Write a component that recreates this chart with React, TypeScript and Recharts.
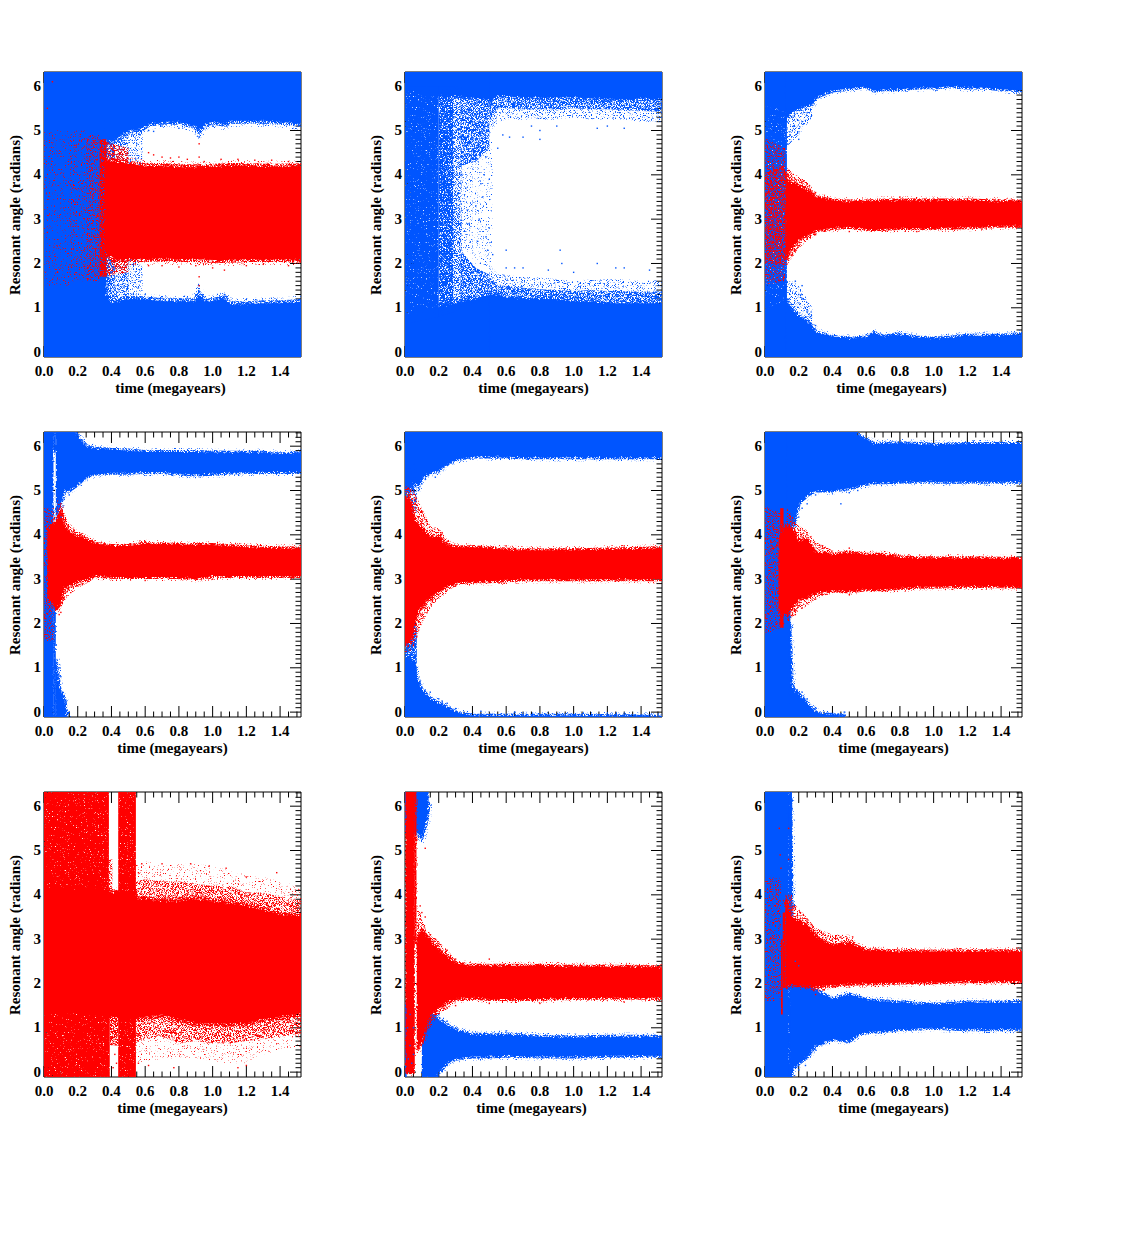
import React from "react";
import { ComposedChart, Area, Scatter, XAxis, YAxis } from "recharts";

const Y_MIN = -0.11;
const Y_MAX = 6.32;
const T_MAX = 1.524;
const xTickValues = [0,0.05,0.1,0.15,0.2,0.25,0.3,0.35,0.4,0.45,0.5,0.55,0.6,0.65,0.7,0.75,0.8,0.85,0.9,0.95,1,1.05,1.1,1.15,1.2,1.25,1.3,1.35,1.4,1.45,1.5];
const yTickValues = [0,0.1,0.2,0.3,0.4,0.5,0.6,0.7,0.8,0.9,1,1.1,1.2,1.3,1.4,1.5,1.6,1.7,1.8,1.9,2,2.1,2.2,2.3,2.4,2.5,2.6,2.7,2.8,2.9,3,3.1,3.2,3.3,3.4,3.5,3.6,3.7,3.8,3.9,4,4.1,4.2,4.3,4.4,4.5,4.6,4.7,4.8,4.9,5,5.1,5.2,5.3,5.4,5.5,5.6,5.7,5.8,5.9,6,6.1,6.2,6.3];

type Band = { s: "b" | "r"; d: number; t: number[]; lo: number[]; hi: number[] };
const L = -0.4, H = 6.6;

// ---- panel 1
const p1Late = [0.36,0.4,0.5,0.58,0.62,0.7,0.8,0.9,0.92,0.95,1,1.07,1.1,1.2,1.3,1.4,1.524];
const p1BlueTopEdge = [4.8,4.75,5.0,5.05,5.15,5.2,5.2,5.1,5.0,5.15,5.2,5.15,5.22,5.22,5.22,5.2,5.13];
const p1BlueBottomEdge = [1.3,1.1,1.2,1.2,1.18,1.15,1.15,1.15,1.3,1.15,1.15,1.22,1.08,1.08,1.1,1.1,1.15];
const p1RedTime = [0.36,0.42,0.5,0.6,0.7,0.8,0.9,1,1.1,1.2,1.3,1.4,1.524];
const p1RedLow = [2.3,2.1,2.1,2.1,2.12,2.1,2.1,2.08,2.08,2.1,2.1,2.1,2.08];
const p1RedHigh = [4.3,4.3,4.25,4.2,4.2,4.17,4.17,4.18,4.2,4.2,4.18,4.18,4.2];
const p1Bands: Band[] = [
  { s:"b", d:1, t:[0,0.37], lo:[L,L], hi:[H,H] },
  { s:"b", d:1, t:p1Late, lo:p1Late.map(()=>L), hi:p1BlueBottomEdge },
  { s:"b", d:1, t:p1Late, lo:p1BlueTopEdge, hi:p1Late.map(()=>H) },
  { s:"b", d:0.7, t:[0.36,0.42], lo:[1.3,1.1], hi:[4.8,4.75] },
  { s:"b", d:0.6, t:[0.42,0.5], lo:[1.1,1.2], hi:[4.75,5] },
  { s:"b", d:0.3, t:[0.5,0.585], lo:[1.2,1.2], hi:[5,5.05] },
  { s:"r", d:0.1, t:[0,0.15], lo:[1.5,1.5], hi:[5,5] },
  { s:"r", d:0.2, t:[0.15,0.25], lo:[1.6,1.6], hi:[5,5] },
  { s:"r", d:0.4, t:[0.25,0.33], lo:[1.6,1.6], hi:[4.9,4.9] },
  { s:"r", d:0.8, t:[0.33,0.37], lo:[1.7,1.7], hi:[4.8,4.8] },
  { s:"r", d:0.6, t:[0.36,0.5], lo:[1.7,1.8], hi:[4.75,4.6] },
  { s:"r", d:1, t:p1RedTime, lo:p1RedLow, hi:p1RedHigh },
];
const p1RedDots = [[0.02,2.7],[0.02,5.5],[0.05,6.1],[0.08,1.8],[0.92,4.7],[0.92,4.4],[0.92,1.7],[0.92,1.5],[0.62,4.5],[0.65,4.45],[0.7,4.4],[0.75,4.38],[0.8,4.4],[0.85,4.35],[0.95,4.3],[1.05,4.35],[1.15,4.35],[1.25,4.33],[1.35,4.33],[1.45,4.3],[0.62,1.95],[0.7,1.95],[0.8,1.92],[0.9,1.95],[1.0,1.9],[1.07,1.85],[1.2,1.95],[1.3,1.98],[1.45,1.95]];
const p1BlueDots = [[0.52,4.9],[0.55,4.7],[0.57,4.9],[0.5,1.5],[0.53,1.3],[0.56,1.45],[0.57,1.6],[0.6,1.3],[0.62,5],[0.65,4.98],[0.92,1.5],[0.92,4.85],[0.7,5.1],[0.8,5.05],[1.0,5.1],[1.3,5.15],[0.7,1.25],[0.85,1.22],[1.07,1.3]];

// ---- panel 2
const p2Time = [0.5,0.55,0.6,0.7,0.8,0.9,1,1.1,1.2,1.3,1.4,1.524];
const p2TopSolid = [5.6,5.8,5.8,5.75,5.75,5.75,5.75,5.72,5.72,5.7,5.72,5.72];
const p2TopMid = [5.2,5.5,5.5,5.48,5.48,5.48,5.5,5.48,5.48,5.46,5.44,5.42];
const p2TopFringe = [4.9,5.2,5.25,5.25,5.25,5.25,5.3,5.25,5.25,5.25,5.2,5.2];
const p2BottomSolid = [1.3,1.3,1.25,1.2,1.2,1.2,1.15,1.15,1.1,1.1,1.1,1.1];
const p2BottomMid = [1.7,1.5,1.5,1.45,1.42,1.4,1.38,1.4,1.38,1.38,1.36,1.38];
const p2BottomFringe = [2.0,1.75,1.75,1.7,1.68,1.65,1.6,1.65,1.65,1.65,1.6,1.65];
const p2Bands: Band[] = [
  { s:"b", d:1, t:[0,0.51], lo:[5.9,5.7], hi:[H,H] },
  { s:"b", d:1, t:[0,0.2,0.51], lo:[L,L,L], hi:[0.8,1.0,1.3] },
  { s:"b", d:0.9, t:[0,0.2], lo:[0.6,0.8], hi:[6.0,6.0] },
  { s:"b", d:0.8, t:[0.2,0.285], lo:[0.8,0.9], hi:[6.0,6.0] },
  { s:"b", d:0.6, t:[0.285,0.335], lo:[0.9,1], hi:[6.0,6.0] },
  { s:"b", d:0.7, t:[0.33,0.42,0.5], lo:[4.2,4.3,4.6], hi:[5.9,5.8,5.7] },
  { s:"b", d:0.7, t:[0.33,0.42,0.5], lo:[1,1.1,1.2], hi:[2.3,1.9,1.75] },
  { s:"b", d:0.2, t:[0.33,0.4], lo:[2.3,2.2], hi:[4.2,4.2] },
  { s:"b", d:0.1, t:[0.4,0.52], lo:[2,1.9], hi:[4.4,4.8] },
  { s:"b", d:0.3, t:p2Time, lo:p2TopFringe, hi:p2TopMid },
  { s:"b", d:0.7, t:p2Time, lo:p2TopMid, hi:p2TopSolid },
  { s:"b", d:0.7, t:p2Time, lo:p2BottomSolid, hi:p2BottomMid },
  { s:"b", d:0.3, t:p2Time, lo:p2BottomMid, hi:p2BottomFringe },
  { s:"b", d:1, t:p2Time, lo:p2TopSolid, hi:p2Time.map(()=>H) },
  { s:"b", d:1, t:p2Time, lo:p2Time.map(()=>L), hi:p2BottomSolid },
];
const p2BlueDots = [[0.36,3.7],[0.37,3.2],[0.38,2.9],[0.42,3.3],[0.44,3],[0.43,2.5],[0.45,3.8],[0.46,3.5],[0.47,4],[0.48,2.6],[0.49,2.3],[0.5,2.8],[0.52,2.2],[0.5,3.9],[0.48,4.4],[0.55,4.6],[0.58,4.9],[0.62,4.85],[0.7,4.85],[0.8,4.8],[0.92,2.3],[0.93,2.0],[1.14,2],[1.25,1.9],[1.3,1.9],[0.6,2.3],[0.6,1.9],[0.65,1.9],[0.7,1.9],[1.14,5.05],[1.2,5.1],[1.3,5.05],[0.8,5],[0.9,5.1],[0.75,5.1],[0.85,1.85],[1.0,1.8],[1.45,1.85]];

// ---- panel 3
const p3Time = [0.12,0.15,0.2,0.28,0.3,0.4,0.5,0.6,0.65,0.7,0.8,0.9,1,1.1,1.2,1.3,1.4,1.524];
const p3TopEdge = [5.2,5.4,5.5,5.6,5.75,5.9,5.95,6.0,5.9,5.93,5.93,5.97,5.97,6.0,5.97,5.97,5.93,5.9];
const p3BottomEdge = [1.2,1.0,0.8,0.6,0.45,0.35,0.3,0.33,0.43,0.35,0.4,0.33,0.3,0.33,0.37,0.37,0.37,0.42];
const p3RedTime = [0.12,0.15,0.2,0.25,0.3,0.4,0.5,0.6,0.7,0.8,1,1.2,1.4,1.524];
const p3RedLow = [2.1,2.3,2.55,2.65,2.75,2.8,2.83,2.78,2.78,2.8,2.8,2.82,2.85,2.85];
const p3RedHigh = [4.05,3.8,3.75,3.65,3.5,3.42,3.4,3.4,3.42,3.42,3.42,3.42,3.4,3.4];
const p3Bands: Band[] = [
  { s:"b", d:1, t:[0,0.13], lo:[5.6,5.4], hi:[H,H] },
  { s:"b", d:1, t:[0,0.13], lo:[L,L], hi:[0.9,1.2] },
  { s:"b", d:0.9, t:[0,0.13], lo:[0.9,1.2], hi:[5.6,5.4] },
  { s:"b", d:0.4, t:[0.12,0.2,0.28], lo:[4.6,4.9,5.3], hi:[5.4,5.5,5.75] },
  { s:"b", d:0.4, t:[0.12,0.2,0.28], lo:[0.9,0.7,0.5], hi:[1.7,1.5,1] },
  { s:"b", d:1, t:p3Time, lo:p3TopEdge, hi:p3Time.map(()=>H) },
  { s:"b", d:1, t:p3Time, lo:p3Time.map(()=>L), hi:p3BottomEdge },
  { s:"r", d:0.4, t:[0,0.12], lo:[1.5,1.6], hi:[4.9,4.6] },
  { s:"r", d:0.6, t:[0,0.12], lo:[2.0,2.0], hi:[4.0,4.2] },
  { s:"r", d:0.5, t:[0.12,0.2,0.25,0.3], lo:[1.9,2.35,2.5,2.65], hi:[4.2,3.95,3.85,3.6] },
  { s:"r", d:1, t:p3RedTime, lo:p3RedLow, hi:p3RedHigh },
];
const p3BlueDots = [[0.15,4.9],[0.17,5.1],[0.2,4.8],[0.22,5.2],[0.25,5.4],[0.27,5.6],[0.15,1.4],[0.18,1.6],[0.2,1.3],[0.22,1.2],[0.25,0.9],[0.27,0.8],[0.3,0.6],[0.22,1.5]];
const p3RedDots = [[0.14,4.1],[0.18,3.9],[0.22,3.85],[0.16,2.2],[0.2,2.4],[0.25,2.55],[0.3,3.6],[0.3,2.65],[0.5,2.72],[0.8,3.5],[0.9,2.72]];

// ---- panel 4
const p4TopTime = [0.07,0.1,0.12,0.15,0.2,0.25,0.3,0.4,0.5,0.6,0.7,0.8,0.9,1,1.1,1.2,1.3,1.4,1.524];
const p4TopLow = [4.3,4.7,5,5,5.15,5.3,5.38,5.4,5.4,5.42,5.42,5.38,5.36,5.38,5.4,5.42,5.42,5.42,5.42];
const p4TopHigh = [H,H,H,H,6.2,6,5.95,5.92,5.9,5.87,5.87,5.87,5.87,5.86,5.85,5.85,5.85,5.82,5.85];
const p4RedTime = [0.02,0.07,0.1,0.12,0.15,0.2,0.25,0.3,0.4,0.5,0.6,0.7,0.8,0.9,1,1.2,1.4,1.524];
const p4RedLow = [2.6,2.4,2.6,2.8,2.85,2.95,3,3.08,3.05,3.05,3.05,3.05,3.05,3.02,3.07,3.07,3.07,3.07];
const p4RedHigh = [4.1,4.3,4.5,4.2,4.05,3.95,3.9,3.8,3.75,3.75,3.8,3.78,3.77,3.77,3.77,3.72,3.7,3.68];
const p4Bands: Band[] = [
  { s:"b", d:1, t:[0,0.056], lo:[L,L], hi:[H,H] },
  { s:"b", d:1, t:[0.055,0.07], lo:[L,L], hi:[4.0,4.0] },
  { s:"b", d:1, t:[0.068,0.09,0.12,0.145], lo:[L,L,L,L], hi:[1.2,0.55,0.3,L] },
  { s:"b", d:1, t:[0.055,0.07], lo:[5.9,5.9], hi:[H,H] },
  { s:"b", d:1, t:p4TopTime, lo:p4TopLow, hi:p4TopHigh },
  { s:"r", d:0.4, t:[0,0.06], lo:[1.6,1.6], hi:[4.6,4.6] },
  { s:"r", d:0.5, t:[0.08,0.12,0.15,0.2,0.25,0.3], lo:[2.2,2.5,2.65,2.8,2.9,3], hi:[4.8,4.5,4.25,4.1,4,3.9] },
  { s:"r", d:0.9, t:[0.065,0.08,0.1], lo:[2.3,2.3,2.4], hi:[4.0,4.3,4.6] },
  { s:"r", d:1, t:p4RedTime, lo:p4RedLow, hi:p4RedHigh },
];
const p4BlueDots = [[0.1,0.8],[0.09,0.6],[0.11,0.45],[0.13,0.25],[0.13,0.05],[0.15,0],[0.09,1.0],[0.1,4.4],[0.12,4.8],[0.15,4.9],[0.18,5.05],[0.22,5.2],[0.22,6.1],[0.25,6.05],[0.28,5.9]];
const p4RedDots = [[0.1,4.7],[0.12,4.3],[0.14,4.2],[0.18,4.1],[0.22,4],[0.15,2.75],[0.2,2.85],[0.23,2.9],[0.09,2.2],[0.1,2.25],[0.12,2.55],[0.6,2.97],[1.0,3.0],[0.6,3.85]];

// ---- panel 5
const p5BlueTopTime = [0,0.03,0.05,0.08,0.1,0.15,0.2,0.25,0.3,0.4,0.5,0.7,0.9,1.1,1.3,1.524];
const p5BlueTopLow = [4.9,5,5.2,5.1,5.3,5.4,5.45,5.6,5.7,5.77,5.77,5.75,5.75,5.75,5.75,5.75];
const p5BlueBottomTime = [0,0.05,0.07,0.1,0.15,0.2,0.25,0.3,0.35,0.4,0.6,1,1.524];
const p5BlueBottomHigh = [1.3,1.1,0.75,0.5,0.3,0.2,0.1,0,-0.05,-0.08,-0.08,-0.08,-0.1];
const p5RedTime = [0,0.03,0.05,0.08,0.1,0.15,0.2,0.25,0.3,0.4,0.5,0.6,0.7,0.8,1,1.2,1.524];
const p5RedLow = [1.5,1.6,1.9,2.3,2.4,2.6,2.75,2.85,2.92,2.95,2.95,2.97,3,3,3,3,3];
const p5RedHigh = [4.9,4.8,4.4,4.2,4.15,3.95,3.95,3.75,3.72,3.72,3.7,3.67,3.65,3.65,3.65,3.67,3.7];
const p5Bands: Band[] = [
  { s:"b", d:1, t:p5BlueTopTime, lo:p5BlueTopLow, hi:p5BlueTopTime.map(()=>H) },
  { s:"b", d:1, t:p5BlueBottomTime, lo:p5BlueBottomTime.map(()=>L), hi:p5BlueBottomHigh },
  { s:"b", d:0.8, t:[0,0.07], lo:[0.7,0.7], hi:[2,2] },
  { s:"b", d:0.6, t:[0,0.07], lo:[4.5,4.5], hi:[5.5,5.5] },
  { s:"r", d:0.5, t:[0,0.05,0.1,0.15,0.2,0.25,0.3], lo:[1.2,1.5,2.0,2.35,2.55,2.7,2.85], hi:[5.2,5,4.6,4.2,4.15,3.9,3.8] },
  { s:"r", d:1, t:p5RedTime, lo:p5RedLow, hi:p5RedHigh },
];
const p5BlueDots = [[0.1,5.15],[0.08,5.0],[0.12,5.25],[0.18,5.3],[0.09,0.7],[0.12,0.5],[0.15,0.45],[0.2,0.3],[0.22,0.25],[0.25,0.2],[0.02,1.2],[0.04,0.95],[0.05,5.6],[0.3,0.08],[0.45,0.02],[0.65,0.0]];
const p5RedDots = [[0.02,5.05],[0.04,4.8],[0.06,4.7],[0.08,4.4],[0.1,4.3],[0.13,4.3],[0.16,4.1],[0.2,4.1],[0.22,4.05],[0.25,3.85],[0.03,1.4],[0.05,1.5],[0.07,1.7],[0.08,2.05],[0.1,2.2],[0.12,2.4],[0.16,2.55],[0.2,2.65],[0.3,2.85],[0.6,3.75],[1.3,3.75]];

// ---- panel 6
const p6TopTime = [0.13,0.15,0.2,0.25,0.3,0.4,0.5,0.55,0.6,0.65,0.8,1,1.2,1.4,1.524];
const p6TopLow = [3,3.9,4.7,4.9,5,5,5.05,5.1,5.15,5.18,5.2,5.2,5.2,5.2,5.2];
const p6TopHigh = [H,H,H,H,H,H,H,6.25,6.15,6.05,6.07,6.03,6.05,6.05,6.05];
const p6BottomTime = [0.145,0.16,0.2,0.25,0.3,0.35,0.48];
const p6BottomHigh = [2,0.55,0.4,0.2,0,-0.05,-0.08];
const p6RedTime = [0.08,0.13,0.17,0.2,0.25,0.3,0.4,0.5,0.6,0.7,0.8,0.9,1,1.2,1.524];
const p6RedLow = [2.3,2.2,2.4,2.55,2.6,2.7,2.75,2.72,2.77,2.77,2.8,2.83,2.83,2.85,2.83];
const p6RedHigh = [3.9,4.2,4.1,3.85,3.9,3.6,3.55,3.6,3.55,3.55,3.5,3.47,3.47,3.47,3.45];
const p6Bands: Band[] = [
  { s:"b", d:1, t:[0,0.15], lo:[L,L], hi:[H,H] },
  { s:"b", d:1, t:p6TopTime, lo:p6TopLow, hi:p6TopHigh },
  { s:"b", d:1, t:p6BottomTime, lo:p6BottomTime.map(()=>L), hi:p6BottomHigh },
  { s:"r", d:0.4, t:[0,0.095], lo:[1.7,1.9], hi:[4.7,4.5] },
  { s:"r", d:0.5, t:[0.13,0.2,0.25,0.3,0.4], lo:[2,2.3,2.4,2.55,2.7], hi:[4.6,4.2,4.1,3.85,3.65] },
  { s:"r", d:0.9, t:[0.09,0.11], lo:[1.9,1.9], hi:[4.6,4.6] },
  { s:"r", d:1, t:p6RedTime, lo:p6RedLow, hi:p6RedHigh },
];
const p6BlueDots = [[0.17,0.6],[0.19,0.5],[0.22,0.45],[0.25,0.3],[0.3,0.1],[0.4,-0.05],[0.47,0],[0.17,4.2],[0.2,4.4],[0.22,4.6],[0.25,4.7],[0.3,4.9],[0.45,4.7],[0.5,4.95],[0.55,5]];
const p6RedDots = [[0.15,4.4],[0.2,4.1],[0.22,3.95],[0.25,4],[0.27,3.95],[0.3,3.8],[0.35,3.7],[0.5,3.7],[0.18,2.2],[0.2,2.4],[0.22,2.35],[0.25,2.45],[0.3,2.55],[0.5,2.65],[0.09,2.0],[0.11,2.0]];

// ---- panel 7
const p7Time = [0.54,0.6,0.7,0.8,0.9,1,1.1,1.2,1.3,1.4,1.524];
const p7UpperOuter = [4.7,4.75,4.7,4.7,4.7,4.65,4.55,4.45,4.4,4.3,4.15];
const p7UpperFringe = [4.3,4.35,4.3,4.3,4.25,4.2,4.2,4.05,4.05,3.95,3.85];
const p7UpperSolid = [3.9,3.9,3.85,3.85,3.9,3.85,3.8,3.75,3.65,3.55,3.5];
const p7LowerOuter = [0.2,0.25,0.3,0.3,0.3,0.25,0.2,0.2,0.4,0.5,0.6];
const p7LowerFringe = [0.65,0.75,0.8,0.65,0.7,0.65,0.65,0.7,0.75,0.8,0.9];
const p7LowerSolid = [1.2,1.25,1.3,1.2,1.1,1.1,1.1,1.1,1.2,1.25,1.35];
const p7Bands: Band[] = [
  { s:"r", d:1, t:[0,0.55], lo:[1.4,1.2], hi:[4.2,4.0] },
  { s:"r", d:0.9, t:[0,0.385], lo:[4.1,4], hi:[H,H] },
  { s:"r", d:0.9, t:[0,0.39], lo:[L,L], hi:[1.5,1.4] },
  { s:"r", d:0.6, t:[0.385,0.405], lo:[3.9,3.9], hi:[4.8,4.8] },
  { s:"r", d:0.9, t:[0.44,0.545], lo:[3.9,3.9], hi:[H,H] },
  { s:"r", d:0.9, t:[0.44,0.545], lo:[L,L], hi:[1.3,1.3] },
  { s:"r", d:0.7, t:[0.39,0.44], lo:[0.6,0.6], hi:[1.4,1.4] },
  { s:"r", d:0.1, t:p7Time, lo:p7UpperFringe, hi:p7UpperOuter },
  { s:"r", d:0.1, t:p7Time, lo:p7LowerOuter, hi:p7LowerFringe },
  { s:"r", d:0.6, t:p7Time, lo:p7UpperSolid, hi:p7UpperFringe },
  { s:"r", d:0.6, t:p7Time, lo:p7LowerFringe, hi:p7LowerSolid },
  { s:"r", d:1, t:p7Time, lo:p7LowerSolid, hi:p7UpperSolid },
];
const p7RedDots = [[0.56,4.5],[0.58,4.7],[0.7,4.7],[0.87,4.7],[0.98,4.65],[1.08,4.6],[1.2,4.4],[1.38,4.5],[0.56,0.2],[0.62,0.15],[0.77,0.1],[1.15,0.1],[1.2,0.15],[0.42,0.4],[0.43,0.2],[0.41,0.1]];

// ---- panel 8
const p8RedTime = [0.07,0.1,0.13,0.15,0.2,0.25,0.3,0.4,0.5,0.6,0.8,1,1.2,1.4,1.524];
const p8RedLow = [0.5,0.7,1.1,1.3,1.45,1.58,1.65,1.68,1.65,1.65,1.65,1.67,1.68,1.68,1.68];
const p8RedHigh = [2.96,3.2,3.05,2.95,2.75,2.6,2.45,2.4,2.4,2.4,2.4,2.38,2.38,2.37,2.35];
const p8BlueTime = [0.1,0.13,0.15,0.2,0.25,0.3,0.4,0.5,0.6,0.8,1,1.2,1.4,1.524];
const p8BlueLow = [L,-0.05,L,0,0.2,0.3,0.35,0.35,0.37,0.35,0.35,0.37,0.37,0.37];
const p8BlueHigh = [0.6,1.3,1.35,1.2,1.05,0.95,0.85,0.83,0.85,0.8,0.78,0.8,0.8,0.78];
const p8Bands: Band[] = [
  { s:"b", d:1, t:[0,0.01], lo:[L,L], hi:[1.5,1.5] },
  { s:"b", d:1, t:[0,0.07,0.1,0.13,0.14], lo:[5.5,5.4,5.3,5.7,6.1], hi:[H,H,H,H,H] },
  { s:"b", d:1, t:p8BlueTime, lo:p8BlueLow, hi:p8BlueHigh },
  { s:"r", d:1, t:[0.003,0.058], lo:[0,0], hi:[H,H] },
  { s:"r", d:1, t:[0.057,0.068], lo:[2.9,2.9], hi:[H,H] },
  { s:"r", d:0.5, t:[0.07,0.1,0.13,0.2,0.3], lo:[0.4,0.6,0.9,1.3,1.55], hi:[3.8,3.5,3.2,2.95,2.55] },
  { s:"r", d:1, t:p8RedTime, lo:p8RedLow, hi:p8RedHigh },
];
const p8BlueDots = [[0.015,1],[0.03,0.6],[0.02,0.3],[0.04,0.2],[0.05,0.4],[0.03,1.3],[0.05,1],[0.12,5.6],[0.14,6.2],[0.1,5.5],[0.2,1.3],[0.25,1.15],[0.3,1],[0.6,0.93],[0.15,-0.05],[0.18,0],[0.22,0.1]];
const p8RedDots = [[0.12,5.05],[0.12,3.5],[0.1,3.6],[0.09,3.75],[0.15,3.1],[0.18,3],[0.2,2.9],[0.25,2.75],[0.3,2.55],[0.5,2.55],[0.15,1.2],[0.18,1.3],[0.25,1.45],[0.3,1.5],[0.5,1.55],[0.8,1.55],[1.3,1.58]];

// ---- panel 9
const p9BlueTime = [0.15,0.16,0.2,0.25,0.3,0.4,0.5,0.55,0.6,0.7,0.8,1,1.2,1.4,1.524];
const p9BlueLow = [L,0.05,0.2,0.35,0.6,0.75,0.7,0.85,0.9,0.93,0.97,1,0.97,0.97,0.97];
const p9BlueHigh = [6.2,3,2.2,2,1.85,1.65,1.75,1.7,1.62,1.6,1.57,1.52,1.57,1.57,1.55];
const p9RedTime = [0.12,0.15,0.2,0.25,0.3,0.4,0.5,0.6,0.8,1,1.2,1.524];
const p9RedLow = [1.9,2,1.95,1.95,1.93,1.97,2,2,2.02,2.03,2.05,2.05];
const p9RedHigh = [3.9,3.5,3.4,3.3,3.05,2.85,2.9,2.75,2.72,2.72,2.72,2.73];
const p9Bands: Band[] = [
  { s:"b", d:1, t:[0,0.145], lo:[L,L], hi:[H,H] },
  { s:"b", d:0.9, t:[0.14,0.16], lo:[L,L], hi:[H,H] },
  { s:"b", d:1, t:p9BlueTime, lo:p9BlueLow, hi:p9BlueHigh },
  { s:"r", d:0.3, t:[0,0.095], lo:[1.6,1.6], hi:[4.4,4.4] },
  { s:"r", d:0.5, t:[0.14,0.2,0.3,0.4,0.5,0.55], lo:[2.3,2.0,1.8,1.9,1.95,1.95], hi:[3.9,3.7,3.25,3.1,3.1,2.9] },
  { s:"r", d:0.9, t:[0.095,0.105], lo:[1.3,1.3], hi:[3,3] },
  { s:"r", d:0.9, t:[0.105,0.12], lo:[1.9,1.9], hi:[3.6,3.6] },
  { s:"r", d:0.5, t:[0.12,0.16], lo:[2,2], hi:[4,4] },
  { s:"r", d:1, t:p9RedTime, lo:p9RedLow, hi:p9RedHigh },
];
const p9BlueDots = [[0.18,0.1],[0.2,0.05],[0.22,0.35],[0.24,0.15],[0.27,0.45],[0.3,0.5],[0.35,0.65],[0.18,2.5],[0.2,2.4]];
const p9RedDots = [[0.18,3.7],[0.21,3.6],[0.25,3.45],[0.28,3.3],[0.3,3.15],[0.4,3],[0.45,3.05],[0.52,3.05],[0.2,2.1],[0.23,2.3],[0.24,1.9],[0.3,1.75],[0.35,1.85],[0.5,1.92],[0.7,1.95],[0.09,4.9],[0.095,4.6],[0.085,5.5],[0.07,3.8],[0.03,3],[0.05,2.5],[0.14,5.5],[0.14,4.8]];

const panels = [
  { left: 44.3, top: 71.5, shift: -2, halo: [6, 12], bands: p1Bands, blueDots: p1BlueDots, redDots: p1RedDots },
  { left: 404.5, top: 71.5, shift: 0, halo: [4, 8], bands: p2Bands, blueDots: p2BlueDots, redDots: [] },
  { left: 765, top: 71.5, shift: -2, halo: [4, 8], bands: p3Bands, blueDots: p3BlueDots, redDots: p3RedDots },
  { left: 44.3, top: 431.7, shift: 0, halo: [4, 8], bands: p4Bands, blueDots: p4BlueDots, redDots: p4RedDots },
  { left: 404.5, top: 431.7, shift: 0, halo: [4, 8], bands: p5Bands, blueDots: p5BlueDots, redDots: p5RedDots },
  { left: 765, top: 431.7, shift: 0, halo: [4, 8], bands: p6Bands, blueDots: p6BlueDots, redDots: p6RedDots },
  { left: 44.3, top: 792.2, shift: 0, halo: [6, 12], bands: p7Bands, blueDots: [], redDots: p7RedDots },
  { left: 404.5, top: 792.2, shift: -2, halo: [4, 8], bands: p8Bands, blueDots: p8BlueDots, redDots: p8RedDots },
  { left: 765, top: 792.2, shift: 0, halo: [4, 8], bands: p9Bands, blueDots: p9BlueDots, redDots: p9RedDots },
];

const BLUE = "#0055ff";
const RED = "#ff0000";
const FONT = "'Liberation Serif', serif";
const PLOT_W = 257, PLOT_H = 285, M_L = 44, M_T = 6, M_B = 46, M_R = 16;
// Noise level above which a pixel is kept, for densities of 10%, 20% ... 90%.
const SPECKLE_CUTS = [0.62, 0.58, 0.55, 0.52, 0.495, 0.46, 0.41, 0.34, 0.22];

const isWhole = (v: number, step: number) => Math.abs(v / step - Math.round(v / step)) < 1e-6;

const BottomTick = (p: any) => {
  const major = isWhole(p.payload.value, 0.2);
  return (
    <g>
      <line x1={p.x} x2={p.x} y1={p.y} y2={p.y - (major ? 11 : 5.5)} stroke="#000" strokeWidth={1} />
      {major && <text x={p.x} y={p.y + 18.5} textAnchor="middle" fontFamily={FONT} fontWeight="bold" fontSize={15} fill="#000">{p.payload.value.toFixed(1)}</text>}
    </g>
  );
};
const TopTick = (p: any) => {
  const major = isWhole(p.payload.value, 0.2);
  return <line x1={p.x} x2={p.x} y1={p.y} y2={p.y + (major ? 11 : 5.5)} stroke="#000" strokeWidth={1} />;
};
const LeftTick = (p: any) => {
  const major = isWhole(p.payload.value, 1);
  return (
    <g>
      <line x1={p.x} x2={p.x + (major ? 11 : 5.5)} y1={p.y} y2={p.y} stroke="#000" strokeWidth={1} />
      {major && <text x={p.x - 3} y={p.y + 4.5} textAnchor="end" fontFamily={FONT} fontWeight="bold" fontSize={15} fill="#000">{p.payload.value.toFixed(0)}</text>}
    </g>
  );
};
const RightTick = (p: any) => {
  const major = isWhole(p.payload.value, 1);
  return <line x1={p.x} x2={p.x - (major ? 11 : 5.5)} y1={p.y} y2={p.y} stroke="#000" strokeWidth={1} />;
};
const YTitle = (p: any) => {
  const x = p.viewBox.x - 23;
  const y = p.viewBox.y + p.viewBox.height / 2 + 0.5;
  return <text x={x} y={y} transform={`rotate(-90 ${x} ${y})`} textAnchor="middle" fontFamily={FONT} fontWeight="bold" fontSize={15} fill="#000">Resonant angle (radians)</text>;
};

const rowsOf = (b: Band) => b.t.map((t, i) => ({
  t: t === 0 ? -0.04 : t >= T_MAX ? T_MAX + 0.04 : t,
  range: [b.lo[i], b.hi[i]],
}));
const dotsOf = (d: number[][]) => d.map(([t, y]) => ({ t, y }));
const Dot = (color: string) => (p: any) => <rect x={p.cx - 0.7} y={p.cy - 0.7} width={1.4} height={1.4} fill={color} />;
const speckle = (d: number) => `url(#speckle${Math.max(1, Math.min(9, Math.round(d * 10)))})`;

function Filters() {
  return (
    <svg width={0} height={0} style={{ position: "absolute" }}>
      <defs>
        {SPECKLE_CUTS.map((cut, i) => (
          <filter key={i} id={`speckle${i + 1}`} filterUnits="userSpaceOnUse" x={-20} y={-20} width={420} height={420} colorInterpolationFilters="sRGB">
            <feTurbulence type="fractalNoise" baseFrequency={1.37} numOctaves={1} seed={i + 3} result="noise" />
            <feColorMatrix in="noise" type="matrix" values={`0 0 0 0 0  0 0 0 0 0  0 0 0 0 0  0 0 0 8 ${-8 * cut}`} result="mask" />
            <feComposite in="SourceGraphic" in2="mask" operator="in" />
          </filter>
        ))}
        <filter id="rough" filterUnits="userSpaceOnUse" x={-20} y={-20} width={420} height={420} colorInterpolationFilters="sRGB">
          <feTurbulence type="fractalNoise" baseFrequency={0.45} numOctaves={2} seed={11} result="noise" />
          <feDisplacementMap in="SourceGraphic" in2="noise" scale={3.5} xChannelSelector="R" yChannelSelector="G" />
        </filter>
      </defs>
    </svg>
  );
}

const layer = { position: "absolute", left: 0, top: 0 } as const;

function Panel({ p }: { p: (typeof panels)[number] }) {
  const w = M_L + PLOT_W + M_R;
  const h = M_T + PLOT_H + M_B;
  return (
    <div style={{ position: "absolute", left: p.left - M_L, top: p.top - M_T, width: w, height: h }}>
      <div style={layer}>
        <ComposedChart width={w} height={h} margin={{ left: M_L - 1, top: M_T - 1, right: M_R - 1, bottom: M_B - 1 }}>
          <XAxis dataKey="t" type="number" domain={[0, T_MAX]} allowDataOverflow ticks={xTickValues} interval={0} height={1} tickSize={0} tickMargin={0} tickLine={false} tick={BottomTick} stroke="#000"
            label={{ value: "time (megayears)", position: "bottom", offset: 24, dx: p.shift, fontFamily: FONT, fontWeight: "bold", fontSize: 15, fill: "#000" }} />
          <XAxis xAxisId="top" orientation="top" dataKey="t" type="number" domain={[0, T_MAX]} allowDataOverflow ticks={xTickValues} interval={0} height={1} tickSize={0} tickMargin={0} tickLine={false} tick={TopTick} stroke="#000" />
          <YAxis type="number" domain={[Y_MIN, Y_MAX]} allowDataOverflow ticks={yTickValues} interval={0} width={1} tickSize={0} tickMargin={0} tickLine={false} tick={LeftTick} stroke="#000"
            label={{ content: YTitle }} />
          <YAxis yAxisId="right" orientation="right" type="number" domain={[Y_MIN, Y_MAX]} allowDataOverflow ticks={yTickValues} interval={0} width={1} tickSize={0} tickMargin={0} tickLine={false} tick={RightTick} stroke="#000" />
        </ComposedChart>
      </div>
      <div style={layer}>
        <ComposedChart width={w} height={h} margin={{ left: M_L, top: M_T, right: M_R, bottom: M_B }}>
          <XAxis dataKey="t" type="number" domain={[0, T_MAX]} allowDataOverflow hide />
          <YAxis type="number" domain={[Y_MIN, Y_MAX]} allowDataOverflow hide />
          {p.bands.flatMap((b, i) => {
            const color = b.s === "b" ? BLUE : RED;
            const common = { data: rowsOf(b), dataKey: "range", type: "linear" as const, dot: false, activeDot: false, isAnimationActive: false, fillOpacity: 1 };
            if (b.d < 1) return [<Area key={i} {...common} stroke="none" fill={color} filter={speckle(b.d)} />];
            return [
              <Area key={`${i}o`} {...common} fill="none" stroke={color} strokeWidth={p.halo[1]} filter={speckle(0.2)} />,
              <Area key={`${i}m`} {...common} fill="none" stroke={color} strokeWidth={p.halo[0]} filter={speckle(0.7)} />,
              <Area key={i} {...common} stroke="none" fill={color} filter="url(#rough)" />,
            ];
          })}
          {p.blueDots.length > 0 && <Scatter data={dotsOf(p.blueDots)} dataKey="y" shape={Dot(BLUE)} isAnimationActive={false} />}
          {p.redDots.length > 0 && <Scatter data={dotsOf(p.redDots)} dataKey="y" shape={Dot(RED)} isAnimationActive={false} />}
        </ComposedChart>
      </div>
    </div>
  );
}

export default function App() {
  return (
    <div style={{ position: "absolute", left: 0, top: 0, width: 1144, height: 1236, background: "#fff", overflow: "hidden" }}>
      <Filters />
      {panels.map((p, i) => <Panel key={i} p={p} />)}
    </div>
  );
}
